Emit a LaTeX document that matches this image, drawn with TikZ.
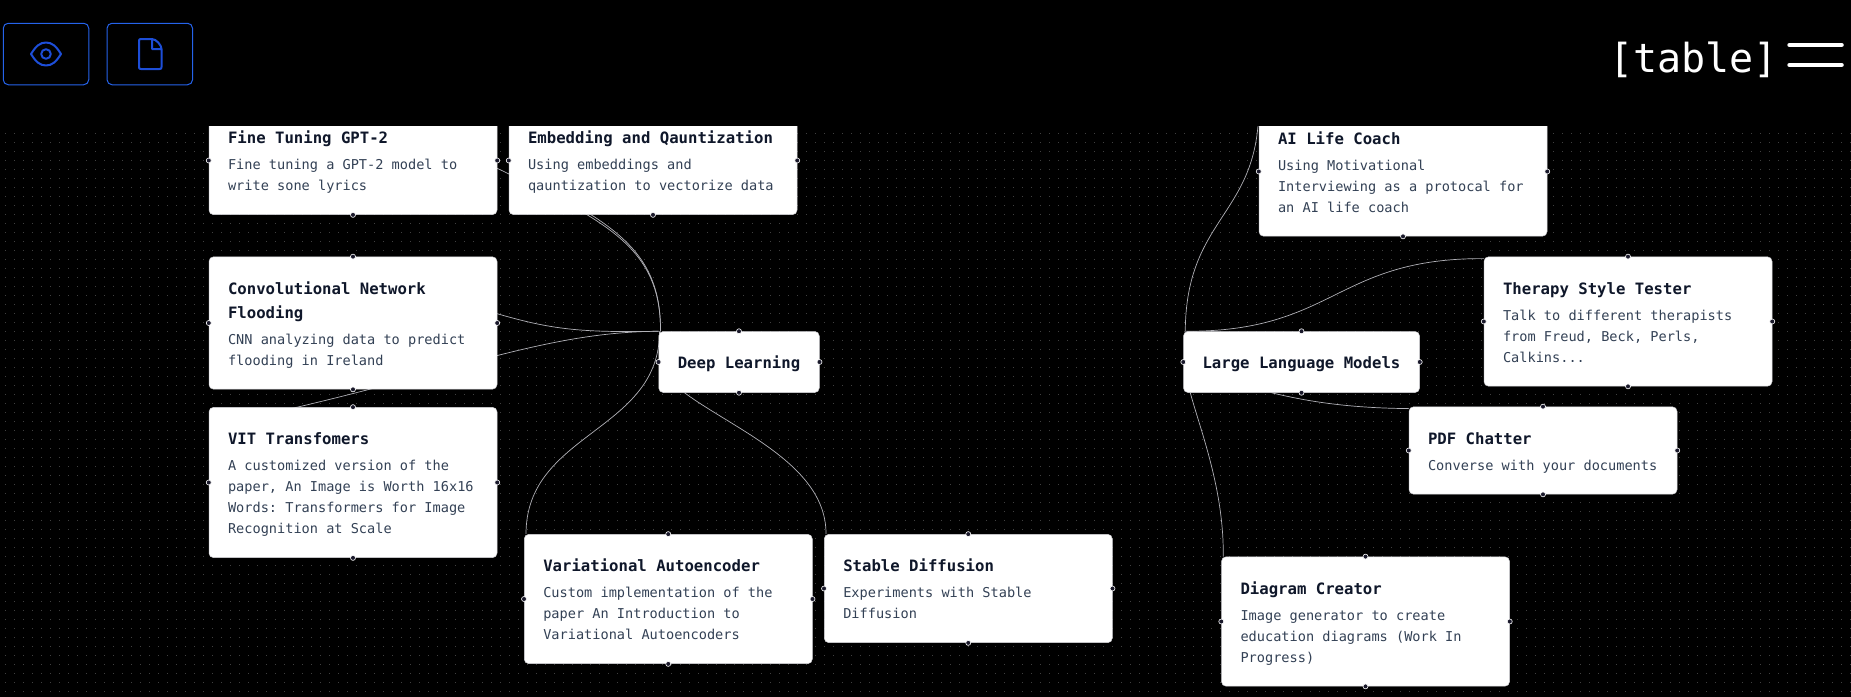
\documentclass[tikz,border=0pt]{standalone}
\usepackage{fontspec}
\setmonofont{DejaVu Sans Mono}
\usetikzlibrary{backgrounds}

\definecolor{griddot}{HTML}{404040}
\definecolor{edgegray}{HTML}{B1B1B7}
\definecolor{handlefill}{HTML}{1A192B}
\definecolor{cardborder}{HTML}{D4D4D8}
\definecolor{titleink}{HTML}{0F172A}
\definecolor{descink}{HTML}{334155}
\definecolor{btnblue}{HTML}{2563EB}
\definecolor{iconblue}{HTML}{1D4ED8}

\newcommand{\cardtitlefont}{\ttfamily\bfseries\fontsize{15.65}{24}\selectfont\spaceskip=9.42pt\xspaceskip=9.42pt\color{titleink}}
\newcommand{\carddescfont}{\ttfamily\fontsize{13.6}{21}\selectfont\spaceskip=8.19pt\xspaceskip=8.19pt\color{descink}}
\newcommand{\titlestrut}{\vrule width 0pt height 18.7pt depth 5.3pt}
\newcommand{\descstrut}{\vrule width 0pt height 15.4pt depth 5.6pt}
\newcommand{\cardtext}[2]{{\cardtitlefont\titlestrut #1\titlestrut\par}\vspace{5pt}{\carddescfont\descstrut #2\descstrut\par}}

\tikzset{
card/.style={fill=white, draw=cardborder, line width=.5pt, rounded corners=4.5pt, inner xsep=19pt, inner ysep=18.5pt, text width=#1, align=left},
card/.default=250pt,
handle/.style={circle, fill=handlefill, draw=white, line width=.6pt, inner sep=0pt, minimum size=5pt},
edge/.style={draw=edgegray, line width=.7pt},
griddots/.style={griddot, line width=1pt, dash pattern=on 1pt off 8pt},
btn/.style={draw=btnblue, line width=1pt, rounded corners=5pt, minimum width=85.5pt, minimum height=61.5pt, inner sep=0pt},
icon/.style={draw=iconblue, line width=2pt, line join=round},
menubar/.style={draw=white, line width=4.5pt, line cap=round}
}

\begin{document}
\begin{tikzpicture}[x=1pt,y=-1pt]
\useasboundingbox (0,0) rectangle (1851,696);

\node[card] (fine) at (353,160.5) {\cardtext{Fine Tuning GPT-2}{Fine tuning a GPT-2 model to\\write sone lyrics}};
\node[card] (embed) at (653,160.5) {\cardtext{Embedding and Qauntization}{Using embeddings and\\qauntization to vectorize data}};
\node[card] (conv) at (353,323) {\cardtext{Convolutional Network\\Flooding}{CNN analyzing data to predict\\flooding in Ireland}};
\node[card] (vit) at (353,482.5) {\cardtext{VIT Transfomers}{A customized version of the\\paper, An Image is Worth 16x16\\Words: Transformers for Image\\Recognition at Scale}};
\node[card=122.5pt] (deep) at (739,362) {\cardtitlefont\titlestrut Deep Learning};
\node[card] (vae) at (668.25,599) {\cardtext{Variational Autoencoder}{Custom implementation of the\\paper An Introduction to\\Variational Autoencoders}};
\node[card] (stable) at (968.25,588.5) {\cardtext{Stable Diffusion}{Experiments with Stable\\Diffusion}};
\node[card=198pt] (llm) at (1301.5,362) {\cardtitlefont\titlestrut Large Language Models};
\node[card] (ai) at (1403,171.5) {\cardtext{AI Life Coach}{Using Motivational\\Interviewing as a protocal for\\an AI life coach}};
\node[card] (therapy) at (1628,321.5) {\cardtext{Therapy Style Tester}{Talk to different therapists\\from Freud, Beck, Perls,\\Calkins...}};
\node[card=230pt] (pdf) at (1543,450.5) {\cardtext{PDF Chatter}{Converse with your documents}};
\node[card] (diagram) at (1365.5,621.5) {\cardtext{Diagram Creator}{Image generator to create\\education diagrams (Work In\\Progress)}};

\begin{scope}[on background layer]
\fill[black] (-5,-5) rectangle (1856,701);
\foreach \y in {133.5,142.5,...,696}
  \draw[griddots] (5,\y) -- (1851,\y);
\draw[edge] ([xshift=2pt]deep.north west) .. controls (661,235) and (590,215) .. ([xshift=-57pt,yshift=20pt]fine.east);
\draw[edge] ([xshift=2pt]deep.north west) .. controls (661,254) and (618,226) .. ([xshift=19pt,yshift=-19pt]embed.west);
\draw[edge] (deep.north west) .. controls (560,333) and (540,328) .. ([xshift=-57pt,yshift=27pt]conv.east);
\draw[edge] (deep.north west) .. controls (540,332) and (450,375) .. ([xshift=31pt,yshift=-13pt]vit.north west);
\draw[edge] ([xshift=1pt]deep.north west) .. controls (660,432) and (526,432) .. ([xshift=2pt]vae.north west);
\draw[edge] ([xshift=26pt]deep.south west) .. controls (735,430) and (826.5,465) .. ([xshift=2pt]stable.north west);
\draw[edge] ([xshift=2pt]llm.north west) .. controls (1186,216) and (1259,216) .. (ai.north west);
\draw[edge] ([xshift=2pt]llm.north west) .. controls (1335,332) and (1335,258) .. ([yshift=-2pt]therapy.north west);
\draw[edge] ([xshift=-30pt]llm.south) .. controls (1310,402) and (1350,408) .. ([yshift=-2pt]pdf.north west);
\draw[edge] ([xshift=7pt]llm.south west) .. controls (1201,432) and (1224,490) .. ([xshift=2pt]diagram.north west);
\end{scope}

\foreach \n in {fine,embed,conv,vit,deep,vae,stable,llm,ai,therapy,pdf,diagram}
  \foreach \a in {north,south,east,west}
    \node[handle] (\n-\a) at (\n.\a) {};

\fill[black] (-5,-5) rectangle (1856,126);

\node[btn] (viewbtn) at (46,54) {};
\node[btn] (filebtn) at (149.8,54) {};
\draw[icon] (31,54) .. controls (36,46) and (40,42.5) .. (46,42.5) .. controls (52,42.5) and (56,46) .. (61,54) .. controls (56,62) and (52,65.5) .. (46,65.5) .. controls (40,65.5) and (36,62) .. (31,54) -- cycle;
\draw[icon] (46,54) circle (4.8);
\draw[icon] (152,39) -- (141,39) .. controls (139.5,39) and (139,39.5) .. (139,41) -- (139,67) .. controls (139,68.5) and (139.5,69) .. (141,69) -- (159.5,69) .. controls (161,69) and (161.5,68.5) .. (161.5,67) -- (161.5,49) .. controls (161.5,45) and (156,39) .. (152,39) -- (152,49) -- (161.5,49);

\node[white, inner sep=0pt, anchor=base, font=\ttfamily\fontsize{40}{40}\selectfont] (tablelabel) at (1693.5,72) {[table]};
\draw[menubar] (1789.5,45) -- (1841.5,45);
\draw[menubar] (1789.5,65) -- (1841.5,65);
\end{tikzpicture}
\end{document}
